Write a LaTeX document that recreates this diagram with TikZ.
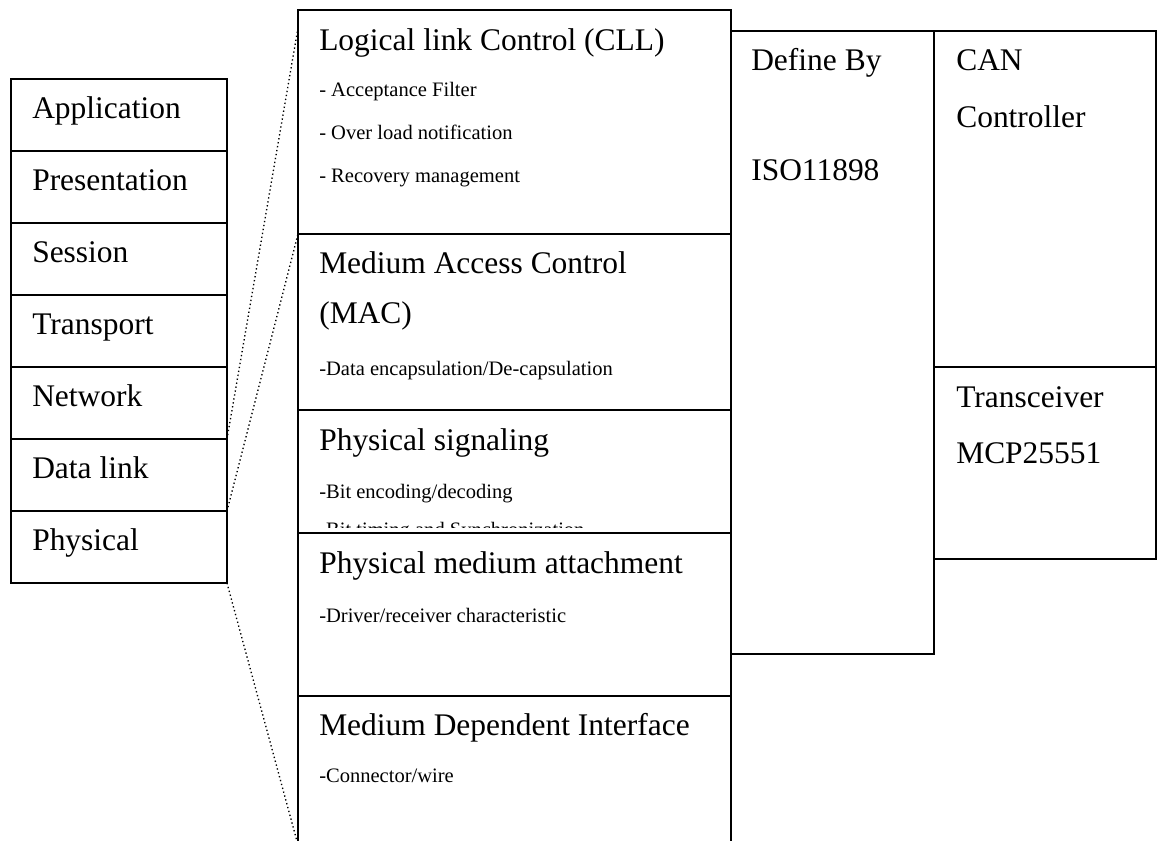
\documentclass[tikz,border=0pt]{standalone}
\usepackage{fontspec}
\setmainfont{Liberation Serif}
\usetikzlibrary{positioning,calc}

\begin{document}
\begin{tikzpicture}[x=0.75pt,y=-0.75pt]
	\tikzset{
		layer/.style={draw, line width=1.1pt, inner sep=0pt, outer sep=0pt},
		osi/.style={layer, minimum width=162pt, minimum height=54pt},
		sub/.style={layer, minimum width=324.75pt},
		big/.style={anchor=base west, inner sep=0pt, font=\fontsize{23.6}{28}\selectfont},
		small/.style={anchor=base west, inner sep=0pt, font=\fontsize{15.4}{18}\selectfont},
		link/.style={dotted, line width=1pt}
	}
	\useasboundingbox (0,0) rectangle (1162,840);
	% seven OSI layers
	\node[osi, anchor=north west] (app) at (11,79) {};
	\node[osi, below=0pt of app] (pre) {};
	\node[osi, below=0pt of pre] (ses) {};
	\node[osi, below=0pt of ses] (tra) {};
	\node[osi, below=0pt of tra] (net) {};
	\node[osi, below=0pt of net] (dl) {};
	\node[osi, below=0pt of dl] (phy) {};
	\node[big] (tapp) at ($(app.north west)+(21,39)$) {Application};
	\node[big] (tpre) at ($(pre.north west)+(21,39)$) {Presentation};
	\node[big] (tses) at ($(ses.north west)+(21,39)$) {Session};
	\node[big] (ttra) at ($(tra.north west)+(21,39)$) {Transport};
	\node[big] (tnet) at ($(net.north west)+(21,39)$) {Network};
	\node[big] (tdl) at ($(dl.north west)+(21,39)$) {Data link};
	\node[big] (tphy) at ($(phy.north west)+(21,39)$) {Physical};
	% CAN sub-layers
	\node[sub, anchor=north west, minimum height=168pt] (llc) at (298,10) {};
	\node[sub, minimum height=132pt, below=0pt of llc] (mac) {};
	\node[sub, minimum height=92.25pt, below=0pt of mac] (pls) {};
	\node[sub, minimum height=122.25pt, below=0pt of pls] (pma) {};
	\node[sub, minimum height=111.75pt, below=0pt of pma] (mdi) {};
	\node[big] (tllc) at ($(llc.north west)+(21,40)$) {Logical link Control (CLL)};
	\node[small] (tllca) at ($(llc.north west)+(21,86)$) {- Acceptance Filter};
	\node[small] (tllcb) at ($(llc.north west)+(21,129)$) {- Over load notification};
	\node[small] (tllcc) at ($(llc.north west)+(21,172)$) {- Recovery management};
	\node[big] (tmac) at ($(mac.north west)+(21,39)$) {Medium Access Control};
	\node[big] (tmacb) at ($(mac.north west)+(21,89)$) {(MAC)};
	\node[small] (tmacc) at ($(mac.north west)+(21,141)$) {-Data encapsulation/De-capsulation};
	\node[big] (tpls) at ($(pls.north west)+(21,40)$) {Physical signaling};
	\node[small] (tplsa) at ($(pls.north west)+(21,88)$) {-Bit encoding/decoding};
	% third line is cut off by the box
	\begin{scope}
		\clip (pls.north west) rectangle ($(pls.south east)+(0,-6)$);
		\node[small] (tplsb) at ($(pls.north west)+(21,126)$) {-Bit timing and Synchronization};
	\end{scope}
	\node[big] (tpma) at ($(pma.north west)+(21,40)$) {Physical medium attachment};
	\node[small] (tpmaa) at ($(pma.north west)+(21,89)$) {-Driver/receiver characteristic};
	\node[big] (tmdi) at ($(mdi.north west)+(21,39)$) {Medium Dependent Interface};
	\node[small] (tmdia) at ($(mdi.north west)+(21,86)$) {-Connector/wire};
	% standard and hardware
	\node[layer, anchor=north west, minimum width=152.25pt, minimum height=467.25pt] (iso) at (731,31) {};
	\node[layer, anchor=north west, minimum width=166.5pt, minimum height=252pt] (ctrl) at (iso.north east) {};
	\node[layer, minimum width=166.5pt, minimum height=144pt, below=0pt of ctrl] (trx) {};
	\node[big] (tiso) at ($(iso.north west)+(20,39)$) {Define By};
	\node[big] (tisob) at ($(iso.north west)+(20,149)$) {ISO11898};
	\node[big] (tctrl) at ($(ctrl.north west)+(22,39)$) {CAN};
	\node[big] (tctrlb) at ($(ctrl.north west)+(22,96)$) {Controller};
	\node[big] (ttrx) at ($(trx.north west)+(22,40)$) {Transceiver};
	\node[big] (ttrxb) at ($(trx.north west)+(22,96)$) {MCP25551};
	% dotted links
	\coordinate (llctop) at ($(llc.north west)+(0,18)$);
	\draw[link] (dl.north east) -- (llctop);
	\draw[link] (dl.south east) -- (mac.north west);
	\draw[link] (phy.south east) -- (mdi.south west);
\end{tikzpicture}
\end{document}
